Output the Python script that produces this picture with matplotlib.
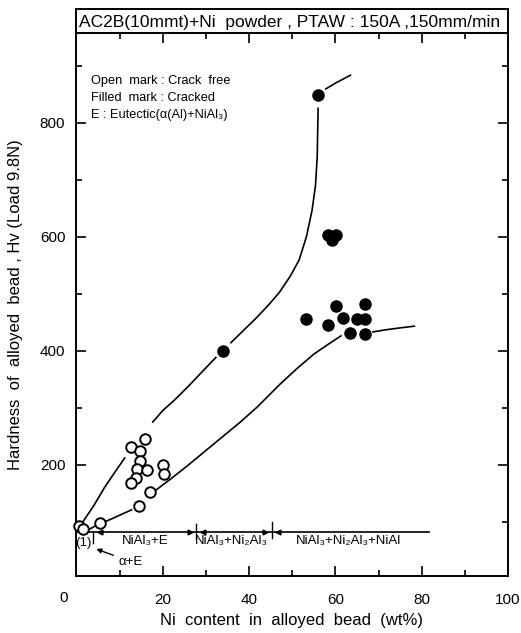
import matplotlib.pyplot as plt
from matplotlib.ticker import MultipleLocator

plt.rcParams['font.family'] = ['Liberation Sans', 'DejaVu Sans']

# crack free specimens (open marks)
open_ni = [0.5, 1.5, 5.5, 14.5, 17.0, 12.7, 15.9, 14.7, 14.7, 14.0, 16.4, 13.8, 12.7, 20.0, 20.3]
open_hv = [92, 88, 98, 128, 153, 232, 246, 224, 207, 193, 190, 177, 168, 200, 184]

# cracked specimens (filled marks)
filled_ni = [34.0, 56.0, 58.2, 60.1, 59.2, 53.3, 60.2, 58.2, 61.7, 65.1, 66.9, 63.5, 66.9, 66.9]
filled_hv = [400, 849, 602, 602, 594, 456, 479, 445, 457, 456, 456, 431, 429, 482]

# upper guide curve, drawn in pieces with gaps around the marks
upper_segs = [
    ([1.5, 4.0, 6.5, 9.0, 11.2], [100, 128, 160, 188, 212]),
    ([17.7, 20.0, 22.8, 26.0, 29.0, 32.3], [275, 295, 314, 338, 362, 388]),
    ([35.8, 38.5, 41.5, 44.5, 47.0, 49.5, 51.6, 53.3, 54.6, 55.4, 55.8, 56.0],
     [414, 434, 456, 480, 502, 530, 559, 600, 646, 690, 740, 825]),
    ([57.8, 60.0, 62.0, 63.5], [859, 869, 877, 883]),
]

# lower guide curve
lower_segs = [
    ([2.2, 3.5, 4.4], [84, 89, 93]),
    ([6.9, 9.0, 11.0, 12.8], [101, 108, 115, 121]),
    ([18.3, 22.0, 26.0, 30.0, 34.0, 38.0, 42.0, 47.0, 51.0, 55.0, 58.5, 61.3],
     [155, 176, 200, 225, 250, 275, 302, 340, 368, 394, 412, 426]),
    ([68.7, 72.0, 75.0, 78.3], [433, 437, 440, 443]),
]

# phase regions along the bottom
phase_hv = 82
phase_end = 81.6
bounds = [3.8, 27.8, 45.3]
phase_labels = ['NiAl₃+E', 'NiAl₃+Ni₂Al₃', 'NiAl₃+Ni₂Al₃+NiAl']
phase_label_x = [16.0, 36.0, 63.0]

fig = plt.figure(figsize=(5.21, 6.33), dpi=100)
ax = fig.add_axes([76.4 / 521, 1 - 576 / 633, 431.6 / 521, 543 / 633])

for xs, ys in upper_segs + lower_segs:
    ax.plot(xs, ys, color='black', lw=1.2)

ax.plot(open_ni, open_hv, 'o', ms=7.6, mfc='white', mec='black', mew=1.4, clip_on=False, zorder=3)
ax.plot(filled_ni, filled_hv, 'o', ms=8.0, mfc='black', mec='black', clip_on=False, zorder=3)

# phase line with region boundaries and arrows
ax.plot([0, phase_end], [phase_hv, phase_hv], color='black', lw=1.2)
ax.plot([bounds[0], bounds[0]], [phase_hv, 63], color='black', lw=1.0)
ax.plot([bounds[1], bounds[1]], [96, 69], color='black', lw=1.0)
ax.plot([bounds[2], bounds[2]], [100, 72], color='black', lw=1.0)
ax.plot([5.5, 29.3, 46.8], [phase_hv] * 3, marker='<', ls='none', ms=3.5, color='black')
ax.plot([26.3, 43.8], [phase_hv] * 2, marker='>', ls='none', ms=3.5, color='black')
for lx, lab in zip(phase_label_x, phase_labels):
    ax.text(lx, 66, lab, ha='center', va='center', fontsize=9.5)
ax.text(1.6, 63, '(1)', ha='center', va='center', fontsize=9.5)
ax.annotate('α+E', xy=(4.0, 54), xytext=(9.8, 30), fontsize=9.5, va='center',
            arrowprops=dict(arrowstyle='-|>', color='black', lw=1.0, mutation_scale=7))

ax.text(3.3, 884, 'Open  mark : Crack  free\nFilled  mark : Cracked\nE : Eutectic(α(Al)+NiAl₃)',
        fontsize=9.2, va='top', ha='left', linespacing=1.55)

ax.set_xlim(0, 100)
ax.set_ylim(5, 957)
ax.xaxis.set_minor_locator(MultipleLocator(10))
ax.yaxis.set_minor_locator(MultipleLocator(100))
ax.set_xticks([20, 40, 60, 80, 100])
ax.set_yticks([200, 400, 600, 800])
ax.tick_params(which='both', direction='in', top=True, right=True, labelsize=11, width=1.2)
ax.tick_params(which='major', length=7)
ax.tick_params(which='minor', length=4)
ax.tick_params(axis='x', pad=12)
ax.tick_params(axis='y', pad=8)
for sp in ax.spines.values():
    sp.set_linewidth(1.4)
ax.text(-2.9, -33, '0', ha='center', va='center', fontsize=11, clip_on=False)

fig.text(292 / 521, 1 - 620 / 633, 'Ni  content  in  alloyed  bead  (wt%)',
         fontsize=12, ha='center', va='center')
ax.set_ylabel('Hardness  of  alloyed  bead , Hv (Load 9.8N)', fontsize=12, labelpad=12)

# header box above the plot
hax = fig.add_axes([76.4 / 521, 1 - 33 / 633, 431.6 / 521, 24 / 633])
hax.set_xticks([])
hax.set_yticks([])
for sp in hax.spines.values():
    sp.set_linewidth(1.4)
hax.text(0.006, 0.45, 'AC2B(10mmt)+Ni  powder , PTAW : 150A ,150mm/min',
         fontsize=12.5, ha='left', va='center', transform=hax.transAxes)

fig.savefig('out.png', dpi=100)
